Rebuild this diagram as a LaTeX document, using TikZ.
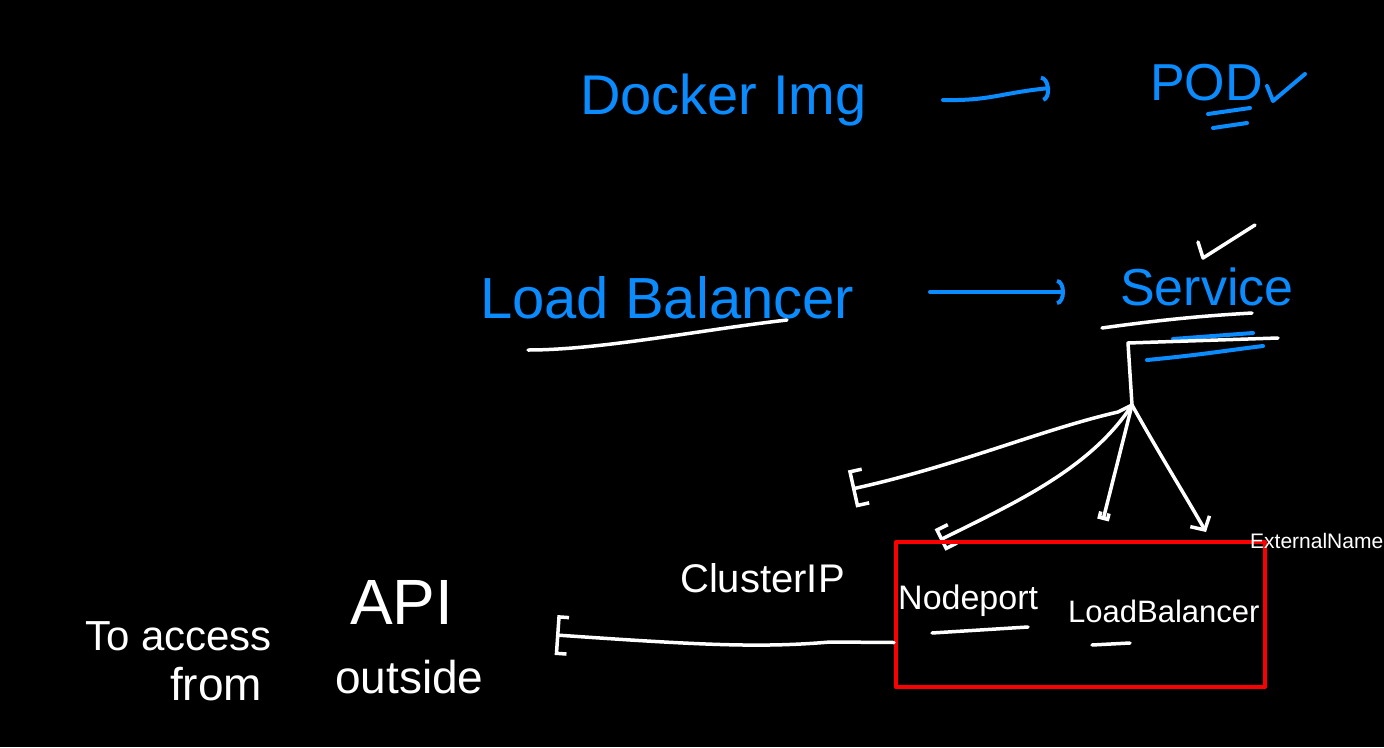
\documentclass[tikz,border=0pt]{standalone}
\usepackage{fontspec}
\setmainfont{Liberation Sans}
\usetikzlibrary{arrows.meta}
\definecolor{inkblue}{RGB}{10,140,255}
\definecolor{inkred}{RGB}{250,0,0}
\begin{document}
\begin{tikzpicture}[x=1pt,y=-1pt,line cap=round,line join=round,
  bluetxt/.style={text=inkblue,inner sep=0pt,anchor=base west},
  whitetxt/.style={text=white,inner sep=0pt,anchor=base west},
  bluestroke/.style={draw=inkblue,line width=4pt},
  whitestroke/.style={draw=white,line width=3.5pt},
  fs/.style={font=\fontsize{#1}{#1}\selectfont}]
\useasboundingbox (0,0) rectangle (1384,747);
\fill[black] (0,0) rectangle (1384,747);

% top row
\node[bluetxt,fs=56] (docker) at (580,114) {Docker Img};
\node[bluetxt,fs=52] (pod) at (1150,100) {POD};
\coordinate (a1s) at (943,100);
\coordinate (a1e) at (1050,88);
\draw[bluestroke,-{Arc Barb[length=8pt,width=26pt]}] (a1s) .. controls (990,101) and (1000,93) .. (a1e);
\coordinate (podck1) at (1267,86);
\coordinate (podck2) at (1273,101);
\coordinate (podck3) at (1305,74);
\draw[bluestroke] (podck1) -- (podck2) -- (podck3);
\coordinate (podu1) at (1208,114);
\coordinate (podu2) at (1250,108);
\coordinate (podu3) at (1213,128);
\coordinate (podu4) at (1247,123);
\draw[bluestroke] (podu1) -- (podu2) (podu3) -- (podu4);

% middle row
\node[bluetxt,fs=58] (lb) at (480,318) {Load Balancer};
\coordinate (lbu1) at (528,350);
\coordinate (lbu2) at (787,320);
\draw[whitestroke] (lbu1) .. controls (600,350) and (700,330) .. (lbu2);
\node[bluetxt,fs=52] (svc) at (1120,305) {Service};
\coordinate (a2s) at (930,292);
\coordinate (a2e) at (1065,292);
\draw[bluestroke,-{Arc Barb[length=8pt,width=26pt]}] (a2s) -- (a2e);
\coordinate (svck1) at (1198,242);
\coordinate (svck2) at (1203,258);
\coordinate (svck3) at (1255,225);
\draw[whitestroke] (svck1) -- (svck2) -- (svck3);
\coordinate (svu1) at (1102,328);
\coordinate (svu2) at (1252,313);
\draw[whitestroke] (svu1) .. controls (1160,320) and (1200,316) .. (svu2);
\coordinate (svb1) at (1173,339);
\coordinate (svb2) at (1253,333);
\coordinate (svb3) at (1147,360);
\coordinate (svb4) at (1263,346);
\draw[bluestroke] (svb1) -- (svb2) (svb3) .. controls (1200,355) and (1230,350) .. (svb4);

% service branches
\coordinate (svl1) at (1278,338);
\coordinate (svl2) at (1128,343);
\coordinate (hub) at (1132,405);
\draw[whitestroke] (svl1) -- (svl2) -- (hub);
\coordinate (tcip) at (852,489);
\coordinate (tnp) at (940,540);
\coordinate (tlb) at (1103,520);
\coordinate (text) at (1206,532);
\draw[whitestroke,-{Bracket[width=38pt,length=12pt]}] (hub) -- (1118,412) .. controls (1040,430) and (960,465) .. (tcip);
\draw[whitestroke,-{Bracket[width=24pt,length=12pt]}] (hub) .. controls (1090,470) and (1010,505) .. (tnp);
\draw[whitestroke,-{Bracket[width=12pt,length=6pt]}] (hub) -- (tlb);
\draw[whitestroke,-{Straight Barb[length=10pt,width=22pt]}] (hub) .. controls (1160,455) and (1185,495) .. (text);

% service type labels
\node[whitetxt,fs=40] (cip) at (680,592) {ClusterIP};
\node[draw=inkred,line width=4pt,minimum width=369pt,minimum height=145pt,inner sep=0pt] (box) at (1080.5,614.5) {};
\node[whitetxt,fs=34] (np) at (898,609) {Nodeport};
\coordinate (npu1) at (932,633);
\coordinate (npu2) at (1028,627);
\draw[whitestroke] (npu1) -- (npu2);
\node[whitetxt,fs=31] (lbt) at (1068,622) {LoadBalancer};
\coordinate (lbtu1) at (1092,645);
\coordinate (lbtu2) at (1130,643);
\draw[whitestroke] (lbtu1) -- (lbtu2);
\node[whitetxt,fs=21] (ext) at (1250,548) {ExternalName};

% outside access
\coordinate (tout) at (556,635);
\draw[whitestroke,-{Bracket[width=40pt,length=10pt]}] ([yshift=-28pt]box.west) -- (830,642) .. controls (760,648) and (700,645) .. (tout);
\node[whitetxt,fs=42] (t1) at (85,650) {To access};
\node[whitetxt,fs=64] (t2) at (350,624) {API};
\node[whitetxt,fs=46] (t3) at (170,700) {from};
\node[whitetxt,fs=46] (t4) at (335,693) {outside};
\end{tikzpicture}
\end{document}
